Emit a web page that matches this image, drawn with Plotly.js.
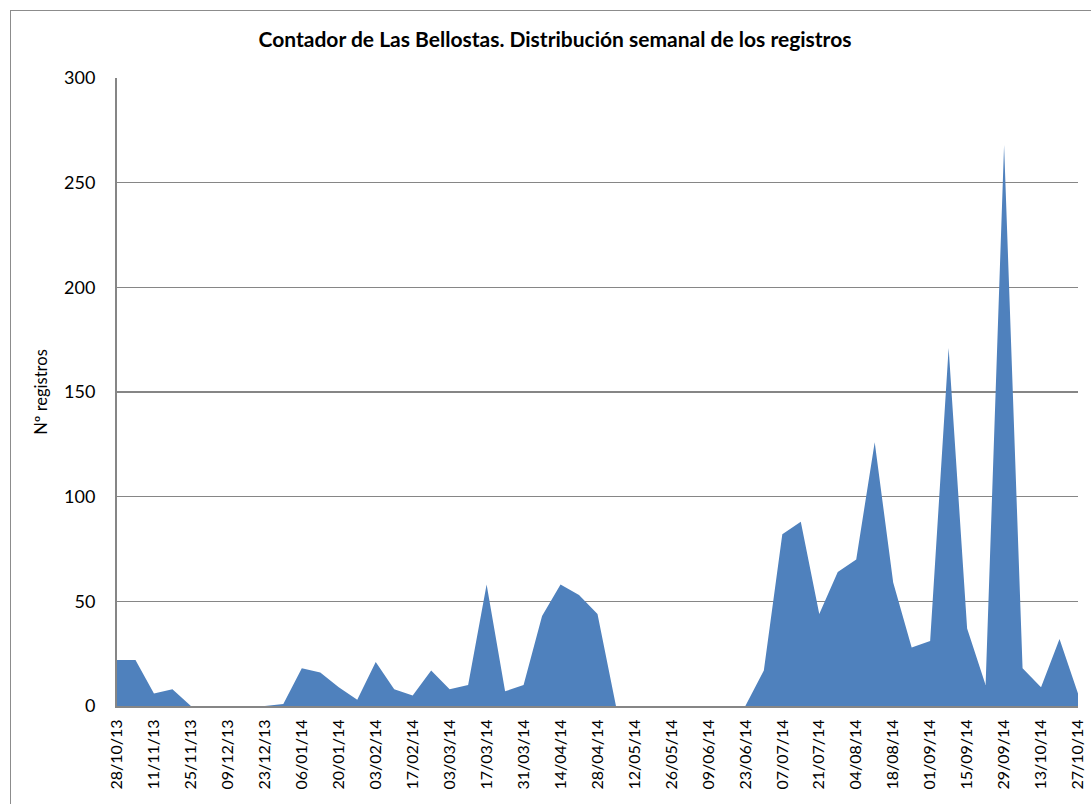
<!DOCTYPE html>
<html>
<head>
<meta charset="utf-8">
<script src="https://cdn.plot.ly/plotly-3.0.1.min.js"></script>
<style>
  html, body { margin: 0; padding: 0; background: #fff; overflow: hidden; }
  #chart { width: 1091px; height: 804px; }
  #frame { position: absolute; left: 10px; top: 10px; width: 1200px; height: 900px;
           border: 1.5px solid #8c8c8c; pointer-events: none; box-sizing: border-box; }
</style>
</head>
<body>
<div id="chart"></div>
<div id="frame"></div>
<script>
const weeks = ["28/10/13","04/11/13","11/11/13","18/11/13","25/11/13","02/12/13","09/12/13","16/12/13",
  "23/12/13","30/12/13","06/01/14","13/01/14","20/01/14","27/01/14","03/02/14","10/02/14","17/02/14",
  "24/02/14","03/03/14","10/03/14","17/03/14","24/03/14","31/03/14","07/04/14","14/04/14","21/04/14",
  "28/04/14","05/05/14","12/05/14","19/05/14","26/05/14","02/06/14","09/06/14","16/06/14","23/06/14",
  "30/06/14","07/07/14","14/07/14","21/07/14","28/07/14","04/08/14","11/08/14","18/08/14","25/08/14",
  "01/09/14","08/09/14","15/09/14","22/09/14","29/09/14","06/10/14","13/10/14","20/10/14","27/10/14"];
const registros = [22,22,6,8,0,0,0,0,0,1,18,16,9,3,21,8,5,17,8,10,58,7,10,43,58,53,44,
  0,0,0,0,0,0,0,0,17,82,88,44,64,70,126,59,28,31,171,37,10,268,18,9,32,6];
const tickLabels = weeks.filter((d, i) => i % 2 === 0);
const yTicks = [0,50,100,150,200,250,300];

const trace = {
  x: weeks, y: registros, type: 'scatter', mode: 'lines',
  fill: 'tozeroy', fillcolor: '#4F81BD',
  line: { width: 0, color: '#4F81BD' }, hoverinfo: 'x+y'
};

const layout = {
  width: 1091, height: 804,
  margin: { l: 117, r: 13, t: 78, b: 98 },
  paper_bgcolor: '#fff', plot_bgcolor: '#fff',
  showlegend: false,
  font: { family: 'Lato, "Open Sans", sans-serif', color: '#000' },
  title: { text: 'Contador de Las Bellostas. Distribución semanal de los registros',
           font: { size: 21, family: 'Lato, sans-serif', weight: 'bold', color: '#000' },
           x: 555/1091, xanchor: 'center', y: 1 - 40/804, yanchor: 'middle' },
  xaxis: {
    type: 'category', range: [0, weeks.length - 1],
    tickmode: 'array', tickvals: tickLabels, ticktext: tickLabels,
    tickangle: -90, tickfont: { size: 16, color: '#000' }, ticklabelstandoff: 5,
    showgrid: false, showline: true, linecolor: '#868686', linewidth: 2,
    ticks: '', zeroline: false, fixedrange: true, automargin: false
  },
  yaxis: {
    range: [0, 300], tickmode: 'array', tickvals: yTicks, ticktext: yTicks.map(String),
    tickfont: { size: 18, color: '#000' }, ticks: '', ticklen: 0, ticklabelstandoff: 16,
    showgrid: true, gridcolor: '#868686', gridwidth: 1.3,
    showline: true, linecolor: '#868686', linewidth: 2, zeroline: false,
    title: { text: 'Nº registros', font: { size: 16.5, color: '#000' }, standoff: 12 },
    fixedrange: true, automargin: false
  }
};

Plotly.newPlot('chart', [trace], layout, { displayModeBar: false, staticPlot: true });
</script>
</body>
</html>
